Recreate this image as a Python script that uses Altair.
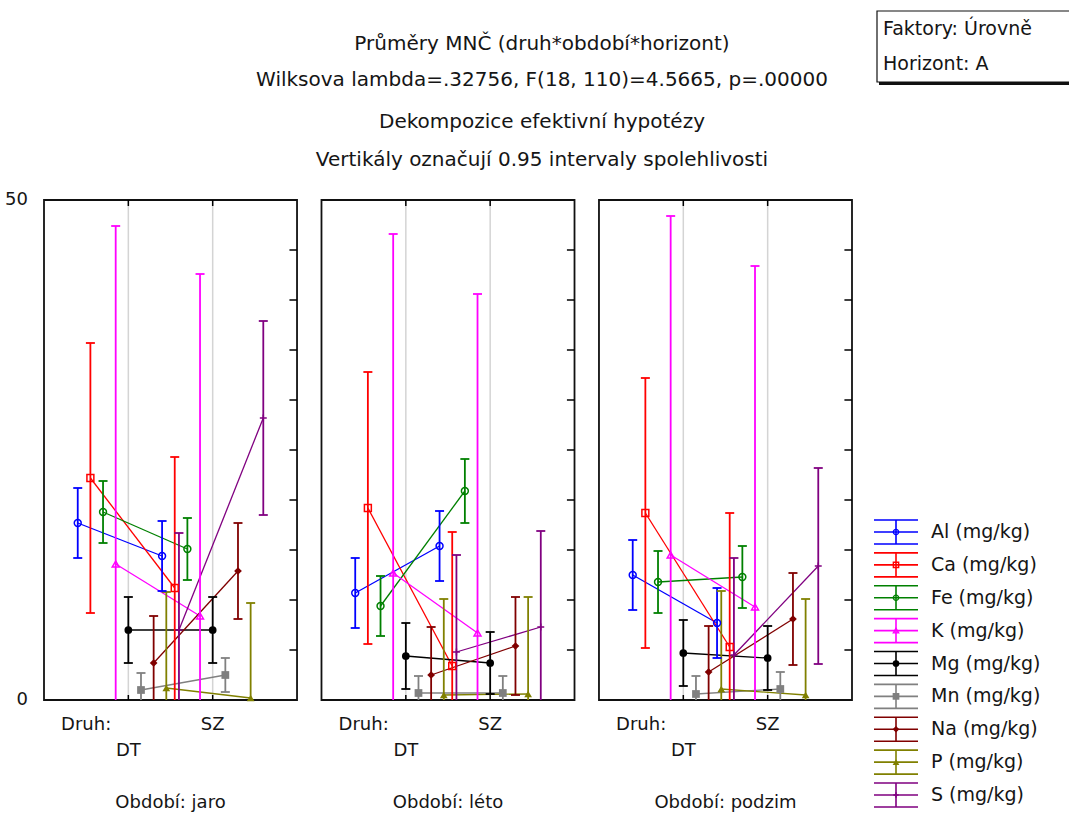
import altair as alt
import pandas as pd

# ---------------- data ----------------
PANELS = ["jaro", "léto", "podzim"]
SERIES = ["Al", "Ca", "Fe", "K", "Mg", "Mn", "Na", "P", "S"]
DRUH = ["DT", "SZ"]
UNIT = "(mg/kg)"

# means per series: [DT, SZ]
MEAN_JARO = [[17.7, 14.4], [22.2, 11.2], [18.8, 15.1], [13.6, 8.4], [7.0, 7.0],
             [1.0, 2.5], [3.7, 12.9], [1.2, 0.2], [7.0, 28.2]]
CI_JARO = [[3.5, 3.5], [13.5, 13.1], [3.1, 3.1], [33.8, 34.2], [3.3, 3.3],
           [1.7, 1.7], [4.7, 4.8], [9.6, 9.5], [9.7, 9.7]]

MEAN_LETO = [[10.7, 15.4], [19.2, 3.4], [9.4, 20.9], [12.7, 6.7], [4.4, 3.7],
             [0.7, 0.7], [2.5, 5.4], [0.5, 0.6], [4.8, 7.3]]
CI_LETO = [[3.5, 3.5], [13.6, 13.4], [3.0, 3.2], [33.9, 33.9], [3.3, 3.1],
           [1.7, 1.7], [4.8, 4.9], [9.6, 9.7], [9.7, 9.6]]

MEAN_PODZIM = [[12.5, 7.7], [18.7, 5.3], [11.8, 12.3], [14.5, 9.3], [4.7, 4.2],
               [0.6, 1.1], [2.8, 8.1], [1.1, 0.5], [4.5, 13.4]]
CI_PODZIM = [[3.5, 3.5], [13.5, 13.4], [3.1, 3.1], [33.9, 34.1], [3.3, 3.2],
             [1.8, 1.7], [4.6, 4.6], [9.8, 9.6], [9.7, 9.8]]

TITLE_LINES = [
    "Průměry MNČ (druh*období*horizont)",
    "Wilksova lambda=.32756, F(18, 110)=4.5665, p=.00000",
    "Dekompozice efektivní hypotézy",
    "Vertikály označují 0.95 intervaly spolehlivosti",
]
BOX_LINES = ["Faktory: Úrovně", "Horizont: A"]
Y_TICKS = [0, 50]
FACTOR_LABEL = "Druh:"
PANEL_PREFIX = "Období: "

# ---------------- styles ----------------
COLORS = ["#0000FF", "#FF0000", "#008000", "#FF00FF", "#000000",
          "#808080", "#800000", "#808000", "#800080"]
SHAPES = ["circle", "square", "circle", "triangle-up", "circle",
          "square", "diamond", "triangle-up", "M-1,0H1M0,-1V1"]
LINE_W = [1.3, 1.3, 1.3, 1.3, 2.0, 2.0, 1.3, 2.0, 1.3]
OPEN = ["Al", "Ca", "Fe", "K", "S"]
FONT = "DejaVu Sans"

PSTEP = 3.29      # panel step in x units
DODGE = 0.15      # series dodge in x units
XMAX = 2 * PSTEP + 3

rows = []
for pi, (means, cis) in enumerate(zip([MEAN_JARO, MEAN_LETO, MEAN_PODZIM],
                                      [CI_JARO, CI_LETO, CI_PODZIM])):
    for si, s in enumerate(SERIES):
        for di, d in enumerate(DRUH):
            rows.append(dict(panel=PANELS[pi], pi=pi, series=s, si=si,
                             druh=d, di=di, mean=means[si][di], ci=cis[si][di]))
df = pd.DataFrame(rows)

XS = alt.Scale(domain=[0, XMAX], range=[44, 852], nice=False, zero=False)
YS = alt.Scale(domain=[0, 50], range=[700, 200], nice=False, zero=False)


def X(f):
    return alt.X(f, type="quantitative", scale=XS, axis=None)


def Y(f):
    return alt.Y(f, type="quantitative", scale=YS, axis=None)


color = alt.Color("series:N", scale=alt.Scale(domain=SERIES, range=COLORS), legend=None)
shape = alt.Shape("series:N", scale=alt.Scale(domain=SERIES, range=SHAPES), legend=None)
lwidth = alt.StrokeWidth("series:N", scale=alt.Scale(domain=SERIES, range=LINE_W), legend=None)

base = alt.Chart(df).transform_calculate(
    gx=f"datum.pi * {PSTEP} + datum.di + 1 + (datum.si - 4) * {DODGE}",
    lo="datum.mean - datum.ci",
    hi="datum.mean + datum.ci",
).transform_calculate(
    lo_c="max(0, datum.lo)",
    hi_c="min(50, datum.hi)",
)

lines = base.mark_line().encode(
    x=X("gx"), y=Y("mean"), color=color, strokeWidth=lwidth,
    detail="panel:N", order=alt.Order("gx:Q"))
errs = base.mark_rule(strokeWidth=1.8).encode(
    x=X("gx"), y=Y("lo_c"), y2="hi_c:Q", color=color)
caps_top = base.transform_filter("datum.hi <= 50").mark_point(
    shape="M-1,0H1", size=81, filled=False, strokeWidth=1.8, opacity=1).encode(
    x=X("gx"), y=Y("hi"), color=color)
caps_bot = base.transform_filter("datum.lo >= 0").mark_point(
    shape="M-1,0H1", size=81, filled=False, strokeWidth=1.8, opacity=1).encode(
    x=X("gx"), y=Y("lo"), color=color)
pts_open = base.transform_filter(alt.FieldOneOfPredicate(field="series", oneOf=OPEN)).mark_point(
    filled=False, size=48, strokeWidth=1.5, opacity=1).encode(
    x=X("gx"), y=Y("mean"), color=color, shape=shape)
pts_fill = base.transform_filter(
    alt.LogicalNotPredicate(**{"not": alt.FieldOneOfPredicate(field="series", oneOf=OPEN)})
).mark_point(filled=True, size=60, opacity=1).encode(
    x=X("gx"), y=Y("mean"), color=color, shape=shape)

# ---- panel decorations ----
grid_df = pd.DataFrame([dict(pi=pi, di=di) for pi in range(3) for di in range(2)])
gbase = alt.Chart(grid_df).transform_calculate(gx=f"datum.pi * {PSTEP} + datum.di + 1")
grid = gbase.transform_calculate(y0="0", y1="50").mark_rule(
    color="#d4d4d4", strokeWidth=1.5).encode(x=X("gx"), y=Y("y0"), y2="y1:Q")
tick_top = gbase.transform_calculate(y0="50", y1="49.4").mark_rule(
    color="black", strokeWidth=1.5).encode(x=X("gx"), y=Y("y0"), y2="y1:Q")
tick_bot = gbase.transform_calculate(y0="0", y1="0.5").mark_rule(
    color="black", strokeWidth=1.5).encode(x=X("gx"), y=Y("y0"), y2="y1:Q")

frame_df = pd.DataFrame({"pi": list(range(3)), "panel": PANELS})
fbase = alt.Chart(frame_df).transform_calculate(
    x0=f"datum.pi * {PSTEP}", x1=f"datum.pi * {PSTEP} + 3", y0="0", y1="50")
frames = fbase.mark_rect(fillOpacity=0, stroke="#111111", strokeWidth=1.8).encode(
    x=X("x0"), x2="x1:Q", y=Y("y0"), y2="y1:Q")

rtick_df = pd.DataFrame([dict(pi=pi, v=v) for pi in range(3) for v in range(5, 50, 5)])
rticks = alt.Chart(rtick_df).transform_calculate(
    x0=f"datum.pi * {PSTEP} + 3", x1=f"datum.pi * {PSTEP} + 3 - 0.09").mark_rule(
    color="black", strokeWidth=1.5).encode(x=X("x0"), x2="x1:Q", y=Y("v:Q"))

# ---- text ----
TXT = dict(font=FONT, color="#151515")
ylab = alt.Chart(pd.DataFrame({"v": Y_TICKS})).mark_text(
    align="right", baseline="middle", fontSize=18, **TXT).encode(
    x=alt.value(28), y=Y("v:Q"), text="v:Q")

fl_df = pd.DataFrame({"pi": list(range(3)), "t": [FACTOR_LABEL] * 3})
factor_lab = alt.Chart(fl_df).transform_calculate(gx=f"datum.pi * {PSTEP} + 0.5").mark_text(
    align="center", baseline="middle", fontSize=18, **TXT).encode(
    x=X("gx"), y=alt.value(725), text="t:N")

cat_df = pd.DataFrame([dict(pi=pi, di=di, t=d) for pi in range(3) for di, d in enumerate(DRUH)])
cat_sz = alt.Chart(cat_df).transform_filter("datum.di == 1").transform_calculate(
    gx=f"datum.pi * {PSTEP} + datum.di + 1").mark_text(
    align="center", baseline="middle", fontSize=18, **TXT).encode(
    x=X("gx"), y=alt.value(725), text="t:N")
cat_dt = alt.Chart(cat_df).transform_filter("datum.di == 0").transform_calculate(
    gx=f"datum.pi * {PSTEP} + datum.di + 1").mark_text(
    align="center", baseline="middle", fontSize=18, **TXT).encode(
    x=X("gx"), y=alt.value(751), text="t:N")

plab = fbase.transform_calculate(
    gx=f"datum.pi * {PSTEP} + 1.5", t=f"'{PANEL_PREFIX}' + datum.panel").mark_text(
    align="center", baseline="middle", fontSize=18, **TXT).encode(
    x=X("gx"), y=alt.value(803), text="t:N")

TITLE_Y = [44, 80, 122, 160]
titles = [
    alt.Chart(pd.DataFrame({"t": [line]})).mark_text(
        align="center", baseline="middle", fontSize=20, **TXT).encode(
        x=alt.value(542), y=alt.value(TITLE_Y[i]), text="t:N")
    for i, line in enumerate(TITLE_LINES)
]

one = pd.DataFrame({"a": [0]})
box_shadow = alt.Chart(one).mark_rect(color="#111111").encode(
    x=alt.value(879), x2=alt.value(1085), y=alt.value(13), y2=alt.value(85))
box = alt.Chart(one).mark_rect(fill="white", stroke="#111111", strokeWidth=1.2).encode(
    x=alt.value(877), x2=alt.value(1082), y=alt.value(11), y2=alt.value(82))
BOX_Y = [29, 64]
box_txt = [
    alt.Chart(pd.DataFrame({"t": [line]})).mark_text(
        align="left", baseline="middle", fontSize=19, **TXT).encode(
        x=alt.value(883), y=alt.value(BOX_Y[i]), text="t:N")
    for i, line in enumerate(BOX_LINES)
]

# ---- legend ----
leg_df = pd.DataFrame({"series": SERIES, "si": list(range(len(SERIES))),
                       "label": [f"{s} {UNIT}" for s in SERIES]})
LS = alt.Scale(domain=[0, len(SERIES) - 1], range=[532, 795], nice=False, zero=False)
lbase = alt.Chart(leg_df)
leg_glyph = lbase.mark_point(
    shape="M-1,-0.545H1M-1,0H1M-1,0.545H1M0,-0.545V0.545", size=1936,
    filled=False, strokeWidth=1.6, opacity=1).encode(
    x=alt.value(896), y=alt.Y("si:Q", scale=LS, axis=None), color=color)
leg_open = lbase.transform_filter(alt.FieldOneOfPredicate(field="series", oneOf=OPEN)).mark_point(
    filled=False, size=28, strokeWidth=1.4, opacity=1).encode(
    x=alt.value(896), y=alt.Y("si:Q", scale=LS, axis=None), color=color, shape=shape)
leg_fill = lbase.transform_filter(
    alt.LogicalNotPredicate(**{"not": alt.FieldOneOfPredicate(field="series", oneOf=OPEN)})
).mark_point(filled=True, size=45, opacity=1).encode(
    x=alt.value(896), y=alt.Y("si:Q", scale=LS, axis=None), color=color, shape=shape)
leg_txt = lbase.mark_text(align="left", baseline="middle", fontSize=19, **TXT).encode(
    x=alt.value(931), y=alt.Y("si:Q", scale=LS, axis=None), text="label:N")

chart = alt.layer(
    grid, frames, rticks, tick_top, tick_bot,
    lines, errs, caps_top, caps_bot, pts_open, pts_fill,
    ylab, factor_lab, cat_sz, cat_dt, plab,
    *titles, box_shadow, box, *box_txt,
    leg_glyph, leg_open, leg_fill, leg_txt,
).resolve_scale(x="independent", y="independent").properties(
    width=1069, height=817, padding=0,
    autosize=alt.AutoSizeParams(type="none"),
).configure_view(stroke=None)

chart.save("out.html", embed_options={"renderer": "svg", "actions": False})
